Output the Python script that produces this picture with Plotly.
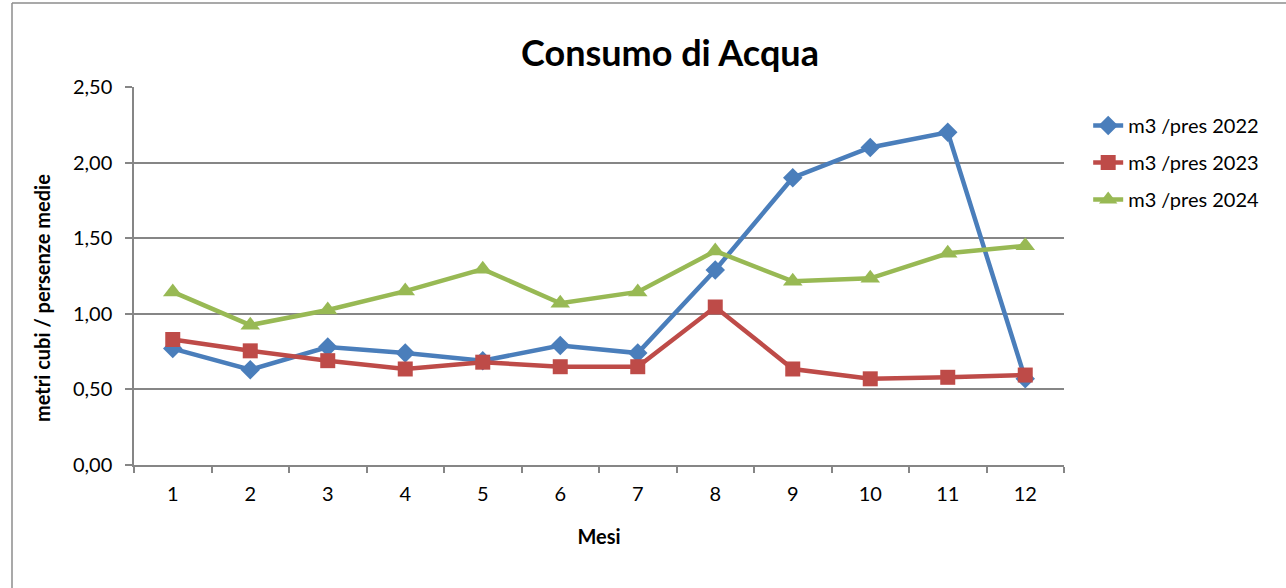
import plotly.graph_objects as go

mesi = ["1", "2", "3", "4", "5", "6", "7", "8", "9", "10", "11", "12"]
pres_2022 = [0.77, 0.63, 0.78, 0.74, 0.69, 0.79, 0.74, 1.29, 1.90, 2.10, 2.20, 0.57]
pres_2023 = [0.83, 0.755, 0.69, 0.635, 0.68, 0.65, 0.65, 1.045, 0.635, 0.57, 0.58, 0.595]
pres_2024 = [1.145, 0.925, 1.025, 1.15, 1.295, 1.07, 1.145, 1.415, 1.215, 1.235, 1.40, 1.45]

series = [
    ("m3 /pres 2022", pres_2022, "#4A7EBB", "diamond", 15),
    ("m3 /pres 2023", pres_2023, "#BE4B48", "square", 15),
    ("m3 /pres 2024", pres_2024, "#98B954", "triangle-up", 17),
]

FONT = "Lato, 'Open Sans', sans-serif"
fig = go.Figure()
for name, vals, col, sym, sz in series:
    fig.add_trace(go.Scatter(
        x=mesi, y=vals, name=name, mode="lines+markers",
        line=dict(color=col, width=4.5),
        marker=dict(symbol=sym, size=sz, color=col),
        legendgroup=name,
    ))

fig.update_layout(
    width=1286, height=588,
    margin=dict(l=134, r=222, t=87, b=123),
    paper_bgcolor="white", plot_bgcolor="white",
    separators=", ",
    font=dict(family=FONT, size=20, color="#000000"),
    title=dict(text="<b>Consumo di Acqua</b>", x=0.521, xref="container",
               y=0.91, yref="container", xanchor="center", yanchor="middle",
               font=dict(size=36, family=FONT, color="#000000")),
    showlegend=True,
    legend=dict(x=1.026, y=0.95, xanchor="left", yanchor="top",
                font=dict(size=20, family=FONT), tracegroupgap=8,
                bgcolor="rgba(0,0,0,0)"),
    xaxis=dict(type="category", tickson="boundaries", ticks="outside",
               range=[-0.5, 11.5], ticklabelstandoff=10,
               ticklen=6, tickcolor="#868686", tickwidth=1.5,
               showline=True, linecolor="#868686", linewidth=1.5,
               showgrid=False, tickfont=dict(size=20),
               title=dict(text="<b>Mesi</b>", standoff=26, font=dict(size=20))),
    yaxis=dict(range=[0, 2.5], dtick=0.5, tickformat=".2f", ticks="outside",
               ticklabelstandoff=9,
               ticklen=7, tickcolor="#868686", tickwidth=1.5,
               showline=True, linecolor="#868686", linewidth=1.5,
               showgrid=True, gridcolor="#868686", gridwidth=1.5,
               zeroline=False, tickfont=dict(size=20)),
)

fig.add_annotation(text="<b>metri cubi / persenze medie</b>", textangle=-90,
                   xref="paper", yref="paper", x=(42 - 134) / 930, y=(465 - 298) / 378,
                   xanchor="center", yanchor="middle", showarrow=False,
                   font=dict(size=20, family=FONT, color="#000000"))

# chart frame border (left and top)
fig.add_shape(type="line", xref="paper", yref="paper",
              x0=(12 - 134) / 930, x1=(12 - 134) / 930,
              y0=(465 - 588) / 378, y1=(465 - 3) / 378,
              line=dict(color="#8c8c8c", width=1.5))
fig.add_shape(type="line", xref="paper", yref="paper",
              x0=(12 - 134) / 930, x1=(1286 - 134) / 930,
              y0=(465 - 3) / 378, y1=(465 - 3) / 378,
              line=dict(color="#8c8c8c", width=1.5))

fig.write_html("out.html")
